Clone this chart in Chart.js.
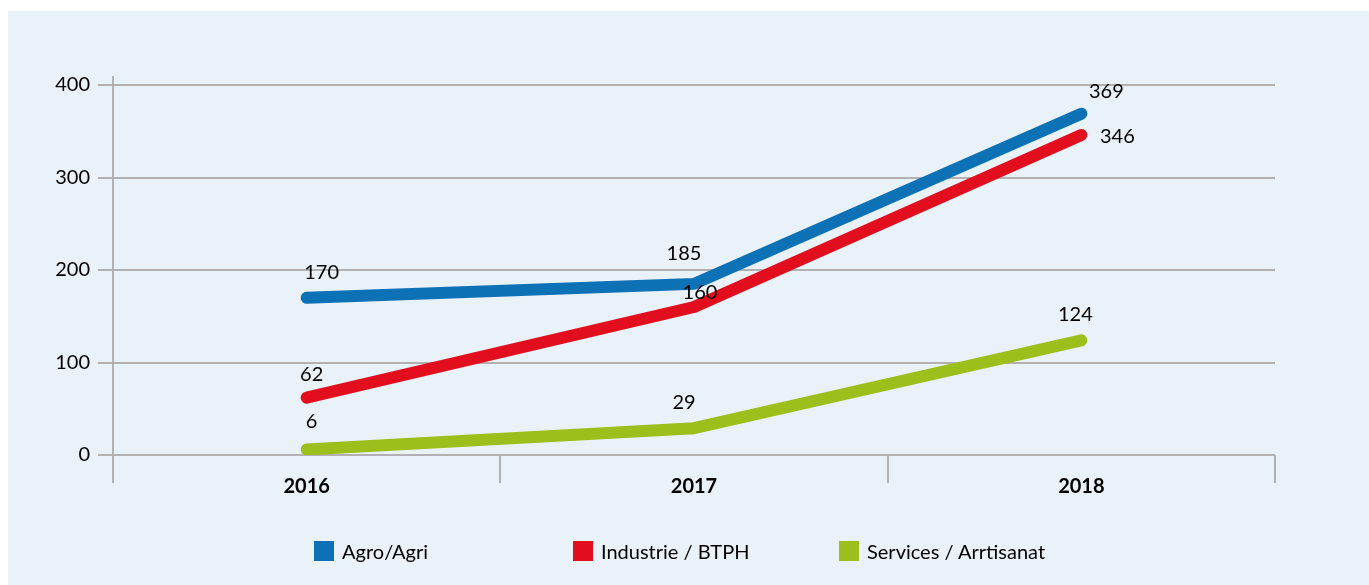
<!DOCTYPE html>
<html>
<head>
<meta charset="utf-8">
<script src="https://cdn.jsdelivr.net/npm/chart.js@4/dist/chart.umd.min.js"></script>
<style>
  html, body { margin: 0; padding: 0; background: #ffffff; }
  #wrap { position: relative; width: 1369px; height: 585px; overflow: hidden; }
  #panel { position: absolute; left: 8px; top: 11px; right: 0; bottom: 0; background: #e9f1f9; }
  #cv { position: absolute; left: 0; top: 0; }
  #legend { position: absolute; top: 538px; left: 0; width: 1369px; height: 26px; font-family: Lato, "Open Sans", sans-serif; font-size: 20px; color: #000; }
  .item { position: absolute; top: 0; display: flex; align-items: center; height: 26px; white-space: nowrap; }
  .box { width: 20px; height: 20px; margin-right: 8px; }
</style>
</head>
<body>
<div id="wrap">
  <div id="panel"></div>
  <canvas id="cv" width="1369" height="585"></canvas>
  <div id="legend"></div>
</div>
<script>
const categories = ["2016", "2017", "2018"];
const seriesNames = ["Agro/Agri", "Industrie / BTPH", "Services / Arrtisanat"];
const agroValues = [170, 185, 369];
const industrieValues = [62, 160, 346];
const servicesValues = [6, 29, 124];
const yTicks = [0, 100, 200, 300, 400];

const colors = ["#0c71b5", "#e20e1e", "#9bc01b"];
const seriesValues = [agroValues, industrieValues, servicesValues];

// label offsets (style only) per series / point, relative to the point
const labelOffsets = [
  [[15, -25], [-10, -30], [25, -22]],
  [[5, -23], [6, -14], [36, 2]],
  [[5, -28], [-10, -26], [-6, -26]]
];

const FONT = 'Lato, "Open Sans", sans-serif';

const labelPlugin = {
  id: 'valueLabels',
  afterDatasetsDraw(chart) {
    const ctx = chart.ctx;
    ctx.save();
    ctx.font = '20px ' + FONT;
    ctx.fillStyle = '#000';
    ctx.textAlign = 'center';
    ctx.textBaseline = 'middle';
    chart.data.datasets.forEach((ds, di) => {
      const meta = chart.getDatasetMeta(di);
      meta.data.forEach((pt, i) => {
        const off = labelOffsets[di][i];
        ctx.fillText(String(ds.data[i]), pt.x + off[0], pt.y + off[1]);
      });
    });
    ctx.restore();
  }
};

const axisExtPlugin = {
  id: 'axisExt',
  beforeDatasetsDraw(chart) {
    const ctx = chart.ctx, a = chart.chartArea;
    ctx.save();
    ctx.strokeStyle = '#b1b1b1';
    ctx.lineWidth = 2;
    ctx.beginPath();
    ctx.moveTo(a.left, a.top - 9);
    ctx.lineTo(a.left, a.bottom);
    ctx.stroke();
    ctx.restore();
  }
};

new Chart(document.getElementById('cv'), {
  type: 'line',
  data: {
    labels: categories,
    datasets: seriesNames.map((name, i) => ({
      label: name,
      data: seriesValues[i],
      borderColor: colors[i],
      backgroundColor: colors[i],
      borderWidth: 12,
      borderCapStyle: 'round',
      borderJoinStyle: 'round',
      pointRadius: 0,
      pointHoverRadius: 0,
      tension: 0,
      fill: false
    }))
  },
  options: {
    responsive: false,
    animation: false,
    events: [],
    layout: { padding: { left: 0, right: 94, top: 85, bottom: 0 } },
    plugins: { legend: { display: false }, tooltip: { enabled: false } },
    scales: {
      x: {
        type: 'category',
        offset: true,
        grid: { display: true, offset: true, drawOnChartArea: false, drawTicks: true, tickLength: 28, color: '#b1b1b1', lineWidth: 2 },
        border: { display: false },
        ticks: { padding: -8, color: '#000', font: { family: FONT, size: 20, weight: 'bold' } },
        afterFit(scale) { scale.height = 130; }
      },
      y: {
        min: 0,
        max: 400,
        afterBuildTicks(scale) { scale.ticks = yTicks.map(v => ({ value: v })); },
        grid: { color: '#b1b1b1', lineWidth: 2, tickLength: 15, drawTicks: true },
        border: { display: false },
        ticks: { padding: 8, color: '#000', font: { family: FONT, size: 20 } },
        afterFit(scale) { scale.width = 113; }
      }
    }
  },
  plugins: [labelPlugin, axisExtPlugin]
});

// HTML legend built from the series arrays
const legendX = [314, 573, 839];
const legend = document.getElementById('legend');
seriesNames.forEach((name, i) => {
  const it = document.createElement('div');
  it.className = 'item';
  it.style.left = legendX[i] + 'px';
  const b = document.createElement('span');
  b.className = 'box';
  b.style.background = colors[i];
  const t = document.createElement('span');
  t.textContent = name;
  it.appendChild(b); it.appendChild(t);
  legend.appendChild(it);
});
</script>
</body>
</html>
